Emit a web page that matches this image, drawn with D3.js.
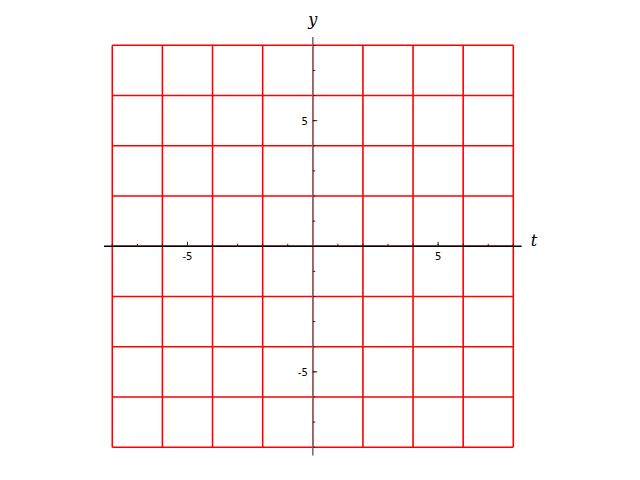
<!DOCTYPE html>
<html><head><meta charset="utf-8">
<script src="https://cdn.jsdelivr.net/npm/d3@7"></script>
<style>body{margin:0;background:#fff}</style>
</head><body>
<script>
const gridValues = [-8, -6, -4, -2, 0, 2, 4, 6, 8];
const majorTicks = [-5, 5];
const minorTicks = [-8, -7, -6, -5, -4, -3, -2, -1, 1, 2, 3, 4, 5, 6, 7, 8];
const tickLabels = ["-5", "5"];
const axisLabels = {x: "t", y: "y"};
const xDomain = [-8.333, 8.333];
const yDomain = [-8.333, 8.333];

const W = 640, H = 480;
const svg = d3.select("body").append("svg").attr("width", W).attr("height", H);
const x = d3.scaleLinear().domain([-8, 8]).range([112.3, 513.3]);
const y = d3.scaleLinear().domain([-8, 8]).range([447.2, 45.3]);

// grid as one path
const gp = d3.path();
gridValues.forEach(v => {
  gp.moveTo(x(v), y(-8)); gp.lineTo(x(v), y(8));
  gp.moveTo(x(-8), y(v)); gp.lineTo(x(8), y(v));
});
svg.append("path").attr("class", "grid").attr("d", gp.toString())
  .attr("fill", "none").attr("stroke", "#ff0000").attr("stroke-width", 1.6);

// y axis
svg.append("line").attr("class", "yaxis")
  .attr("x1", x(0)).attr("x2", x(0))
  .attr("y1", y(yDomain[0])).attr("y2", y(yDomain[1]))
  .attr("stroke", "#8a6a6a").attr("stroke-width", 1.6);
// x axis
svg.append("line").attr("class", "xaxis")
  .attr("x1", x(xDomain[0])).attr("x2", x(xDomain[1]))
  .attr("y1", y(0)).attr("y2", y(0))
  .attr("stroke", "#000").attr("stroke-width", 1.3);

// ticks
const tp = d3.path();
minorTicks.forEach(v => {
  tp.moveTo(x(v), y(0)); tp.lineTo(x(v), y(0) - 2.5);
  tp.moveTo(x(0), y(v)); tp.lineTo(x(0) + 2.5, y(v));
});
majorTicks.forEach(v => {
  tp.moveTo(x(v), y(0)); tp.lineTo(x(v), y(0) - 4.5);
  tp.moveTo(x(0), y(v)); tp.lineTo(x(0) + 4.5, y(v));
});
svg.append("path").attr("class", "ticks").attr("d", tp.toString())
  .attr("fill", "none").attr("stroke", "#222").attr("stroke-width", 1);

// tick labels
const labG = svg.append("g").attr("class", "labels");
labG.selectAll("text.tx").data(majorTicks).enter().append("text").attr("class", "tx")
  .attr("x", d => x(d)).attr("y", y(0) + 14)
  .attr("text-anchor", "middle").attr("font-family", "DejaVu Sans").attr("font-size", 10)
  .attr("fill", "#000").text((d, i) => tickLabels[i]);
labG.selectAll("text.ty").data(majorTicks).enter().append("text").attr("class", "ty")
  .attr("x", x(0) - 5).attr("y", d => y(d) + 4)
  .attr("text-anchor", "end").attr("font-family", "DejaVu Sans").attr("font-size", 10)
  .attr("fill", "#000").text((d, i) => tickLabels[i]);

// axis labels
labG.append("text").attr("class", "xlabel").attr("x", x(xDomain[1]) + 9).attr("y", y(0))
  .attr("font-family", "DejaVu Serif").attr("font-style", "italic").attr("font-size", 16)
  .text(axisLabels.x);
labG.append("text").attr("class", "ylabel").attr("x", x(0)).attr("y", 25)
  .attr("text-anchor", "middle")
  .attr("font-family", "DejaVu Serif").attr("font-style", "italic").attr("font-size", 16)
  .text(axisLabels.y);
</script>
</body></html>
